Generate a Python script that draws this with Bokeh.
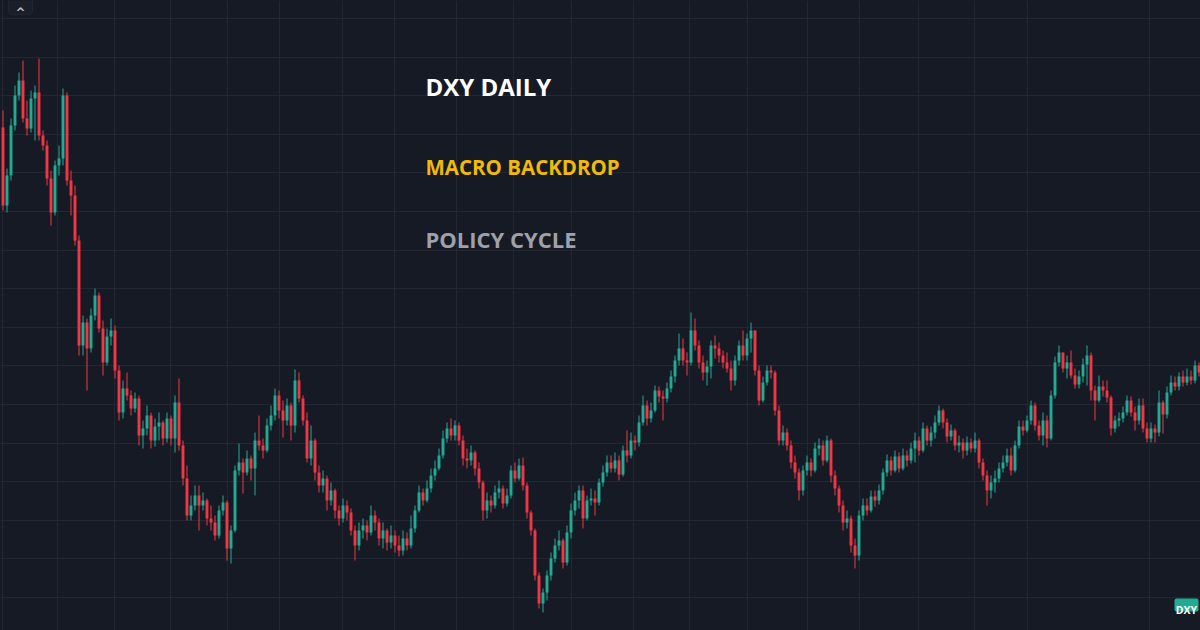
import numpy as np
from bokeh.plotting import figure
from bokeh.models import Range1d, Grid, FixedTicker, ColumnDataSource, Label, BoxAnnotation
from bokeh.embed import file_html
from bokeh.resources import INLINE

# ---------------- data (daily OHLC) ----------------
first_open = 111.92
closes = [
    108.80, 110.00, 112.00, 113.20, 113.80, 112.28, 111.88, 113.08, 113.32, 111.60,
    111.20, 109.88, 108.52, 110.40, 110.68, 113.20, 109.80, 109.20, 107.40, 103.20,
    104.12, 103.08, 104.40, 105.20, 103.88, 102.52, 103.56, 103.80, 102.20, 100.52,
    101.48, 101.20, 100.68, 101.08, 99.60, 99.88, 100.40, 99.40, 99.96, 100.12,
    99.48, 100.28, 99.48, 100.92, 99.20, 97.88, 96.40, 96.80, 97.20, 96.80,
    97.00, 96.28, 96.12, 95.60, 96.60, 96.92, 95.08, 95.80, 98.20, 98.52,
    98.12, 98.68, 98.28, 99.40, 99.20, 99.00, 100.00, 100.40, 101.20, 100.60,
    100.20, 100.80, 100.00, 101.80, 101.08, 100.20, 98.68, 99.40, 98.12, 97.60,
    97.88, 97.00, 97.40, 96.60, 96.28, 96.80, 96.52, 95.80, 95.20, 95.80,
    96.00, 95.72, 96.40, 96.12, 95.48, 95.80, 95.32, 95.60, 95.20, 95.00,
    95.48, 95.20, 95.88, 96.60, 97.32, 97.00, 97.48, 98.00, 98.28, 98.80,
    99.48, 99.88, 99.60, 100.00, 99.40, 98.68, 98.60, 98.92, 98.28, 97.72,
    96.60, 97.00, 96.80, 97.32, 97.48, 96.88, 97.20, 98.20, 97.88, 98.40,
    97.60, 96.52, 95.80, 94.00, 92.88, 93.32, 94.00, 94.68, 95.20, 95.40,
    94.52, 95.72, 96.60, 97.00, 97.40, 96.28, 97.00, 97.08, 96.92, 97.72,
    98.12, 98.52, 98.28, 98.60, 98.04, 99.00, 98.80, 99.40, 99.32, 100.12,
    100.80, 100.28, 100.60, 101.40, 101.16, 101.08, 101.48, 101.96, 102.60, 103.08,
    102.60, 102.52, 103.80, 103.20, 102.52, 102.12, 102.36, 103.20, 103.08, 102.80,
    102.52, 102.28, 101.80, 102.60, 103.20, 102.80, 103.48, 103.80, 102.20, 101.00,
    101.72, 102.20, 102.12, 100.60, 99.40, 99.72, 99.20, 98.52, 98.12, 97.40,
    98.20, 98.52, 98.20, 99.08, 99.20, 98.60, 99.40, 98.00, 97.48, 96.80,
    96.12, 96.28, 95.20, 94.80, 96.40, 96.80, 96.60, 97.16, 97.00, 97.40,
    98.12, 98.60, 98.20, 98.76, 98.28, 98.80, 98.60, 99.08, 99.40, 99.00,
    99.88, 99.40, 99.72, 100.12, 100.60, 100.12, 99.56, 99.80, 99.20, 99.32,
    99.00, 99.32, 99.08, 99.40, 98.52, 98.00, 97.40, 97.72, 97.88, 98.28,
    98.52, 98.80, 98.20, 99.20, 99.96, 99.80, 100.20, 100.80, 100.00, 99.60,
    100.20, 99.48, 101.20, 102.52, 102.92, 102.28, 102.52, 102.00, 101.64, 101.96,
    102.44, 102.80, 101.40, 101.00, 101.56, 101.40, 101.12, 99.88, 100.20, 100.28,
    100.52, 101.00, 100.52, 100.20, 100.80, 99.88, 99.48, 99.88, 99.72, 100.92,
    100.44, 101.32, 101.72, 101.56, 101.96, 101.72, 101.96, 101.80, 102.40, 102.12,
]
highs = [
    112.60, 110.28, 112.28, 113.60, 114.12, 114.60, 113.00, 113.40, 113.60, 114.68,
    111.80, 111.40, 110.20, 110.60, 111.20, 113.48, 113.32, 110.20, 109.60, 107.60,
    104.40, 104.28, 104.68, 105.48, 105.32, 104.20, 103.88, 104.28, 104.00, 102.40,
    101.80, 102.12, 101.40, 101.32, 101.20, 100.20, 100.80, 100.52, 100.28, 100.52,
    100.20, 100.52, 100.40, 101.20, 101.88, 99.40, 98.40, 97.20, 97.60, 97.60,
    97.32, 97.08, 96.80, 96.40, 96.80, 97.20, 97.00, 96.00, 98.40, 99.28,
    98.68, 99.00, 98.80, 99.72, 100.40, 99.48, 100.28, 100.80, 101.48, 101.40,
    101.00, 101.08, 100.92, 102.24, 102.12, 101.20, 100.52, 100.00, 99.48, 98.40,
    98.20, 98.00, 97.72, 97.48, 96.80, 97.08, 97.00, 96.68, 96.00, 96.12,
    96.28, 96.20, 96.80, 96.60, 96.28, 96.12, 95.88, 96.00, 95.80, 95.60,
    95.80, 95.72, 96.40, 96.80, 97.60, 97.48, 97.80, 98.28, 98.60, 99.08,
    99.80, 100.12, 100.28, 100.20, 100.12, 99.60, 99.08, 99.20, 99.00, 98.52,
    97.80, 97.32, 97.20, 97.60, 97.80, 97.60, 97.48, 98.40, 98.52, 98.68,
    98.72, 97.72, 96.60, 95.88, 94.12, 93.48, 94.20, 94.92, 95.48, 95.80,
    95.48, 96.00, 96.88, 97.32, 97.60, 97.60, 97.20, 97.48, 97.40, 97.88,
    98.40, 98.80, 98.80, 98.92, 98.80, 99.20, 99.80, 99.72, 99.60, 100.40,
    101.20, 101.00, 100.92, 101.60, 101.56, 101.40, 101.72, 102.20, 102.80, 103.68,
    103.48, 102.92, 104.52, 104.28, 103.40, 102.80, 102.60, 103.40, 103.60, 103.32,
    103.00, 102.92, 102.60, 102.80, 103.40, 103.80, 103.68, 104.12, 103.60, 102.40,
    101.96, 102.40, 102.40, 102.20, 100.80, 100.00, 99.88, 99.40, 98.80, 98.28,
    98.40, 98.80, 98.68, 99.32, 99.48, 99.40, 99.60, 99.48, 98.20, 97.60,
    97.00, 96.60, 96.40, 95.48, 96.60, 97.08, 97.08, 97.40, 97.40, 97.64,
    98.28, 98.84, 98.76, 99.00, 98.92, 99.08, 99.00, 99.32, 99.72, 99.56,
    100.12, 100.00, 99.96, 100.40, 100.80, 100.68, 100.28, 100.04, 99.88, 99.60,
    99.48, 99.56, 99.48, 99.72, 99.48, 98.68, 98.20, 98.00, 98.20, 98.52,
    98.80, 99.08, 99.12, 99.40, 100.20, 100.20, 100.40, 101.00, 100.92, 100.20,
    100.52, 100.40, 101.40, 102.76, 103.20, 102.92, 102.80, 103.00, 102.28, 102.20,
    102.68, 103.20, 102.92, 101.60, 102.00, 101.80, 101.80, 101.20, 100.40, 100.52,
    100.76, 101.20, 101.16, 100.76, 101.08, 101.08, 100.12, 100.12, 100.04, 101.40,
    101.00, 101.56, 102.00, 101.96, 102.12, 102.20, 102.28, 102.20, 102.60, 102.52,
]
lows = [
    108.60, 108.52, 109.80, 111.80, 113.00, 112.12, 111.60, 111.72, 111.40, 111.40,
    111.00, 109.60, 108.00, 108.40, 110.00, 110.40, 109.60, 108.40, 107.20, 102.80,
    102.80, 101.40, 102.92, 104.20, 103.72, 102.00, 102.40, 103.20, 101.88, 100.20,
    100.28, 101.00, 100.40, 100.52, 99.20, 99.08, 99.60, 99.08, 99.16, 99.40,
    99.20, 99.32, 99.20, 98.92, 99.00, 97.60, 96.20, 96.20, 96.60, 95.80,
    96.60, 96.00, 95.80, 95.40, 95.48, 96.40, 94.60, 94.48, 95.72, 98.00,
    97.28, 98.00, 97.80, 97.20, 99.00, 98.68, 98.92, 99.80, 100.20, 100.28,
    99.52, 100.00, 99.40, 99.72, 100.92, 100.00, 98.52, 98.40, 97.80, 97.32,
    97.32, 96.60, 96.80, 96.28, 96.00, 96.12, 96.20, 95.60, 94.60, 95.00,
    95.48, 95.40, 95.60, 95.80, 95.20, 95.08, 95.00, 95.08, 94.92, 94.76,
    94.80, 95.00, 95.08, 95.72, 96.52, 96.80, 96.92, 97.32, 97.80, 98.20,
    98.68, 99.32, 99.40, 99.40, 99.20, 98.40, 98.28, 98.40, 98.00, 97.48,
    96.20, 96.28, 96.52, 96.68, 97.08, 96.68, 96.76, 97.08, 97.72, 97.80,
    97.40, 96.28, 95.60, 93.80, 92.68, 92.52, 93.00, 93.80, 94.52, 95.00,
    94.28, 94.40, 95.48, 96.40, 96.68, 95.88, 96.20, 96.80, 96.40, 96.80,
    97.56, 97.96, 98.12, 98.12, 97.80, 97.96, 98.52, 98.68, 99.00, 99.16,
    100.00, 100.00, 100.12, 100.52, 100.92, 100.20, 100.92, 101.32, 101.72, 102.40,
    102.40, 102.00, 102.40, 103.00, 102.28, 101.80, 101.60, 101.88, 102.68, 102.52,
    102.28, 102.12, 101.40, 101.60, 102.40, 102.60, 102.60, 102.92, 102.00, 100.80,
    100.92, 101.60, 101.88, 100.40, 99.20, 99.20, 99.00, 98.28, 97.88, 97.00,
    97.20, 98.00, 97.96, 98.12, 98.80, 98.40, 98.52, 97.72, 97.20, 96.52,
    95.80, 95.88, 94.92, 94.28, 94.60, 96.20, 96.40, 96.52, 96.76, 96.84,
    97.24, 97.96, 98.00, 98.12, 98.12, 98.20, 98.36, 98.48, 98.52, 98.80,
    98.92, 99.20, 99.16, 99.48, 100.00, 99.88, 99.32, 99.40, 99.00, 98.92,
    98.68, 98.80, 98.92, 98.92, 98.28, 97.80, 96.80, 97.08, 97.32, 97.72,
    98.12, 98.36, 98.00, 98.12, 99.08, 99.60, 99.72, 100.04, 99.80, 99.40,
    99.20, 99.12, 99.40, 101.08, 102.36, 102.12, 101.88, 101.88, 101.48, 101.48,
    101.72, 101.60, 101.00, 100.20, 100.92, 101.16, 100.92, 99.60, 99.72, 99.96,
    100.12, 100.40, 100.36, 99.80, 100.04, 99.72, 99.32, 99.32, 99.32, 99.56,
    99.68, 100.28, 101.20, 101.40, 101.40, 101.56, 101.60, 101.64, 101.68, 101.96,
]

title_text = "DXY DAILY"
subtitle_text = "MACRO BACKDROP"
note_text = "POLICY CYCLE"
symbol_badge = "DXY"

# ---------------- layout / style ----------------
W, H = 1200, 630
BG = "#161a25"
GRID_COLOR = "#232733"
UP = "#22ab94"
DOWN = "#f23645"

STEP = 4.0          # px per bar
X0 = 2.5            # px of first bar centre
Y_TOP = 117.0       # price at top edge
PX_PER_UNIT = 25.0  # px per price unit


def px2x(px):
    return (px - X0) / STEP


def px2y(py):
    return Y_TOP - py / PX_PER_UNIT


n = len(closes)
idx = np.arange(n)
c = np.array(closes)
o = np.array([first_open] + closes[:-1])
top = np.maximum(o, c)
bot = np.minimum(o, c)
hi = np.maximum(np.array(highs), top)
lo = np.minimum(np.array(lows), bot)
bot = np.where(top - bot < 0.02, top - 0.02, bot)
colors = np.where(c >= o, UP, DOWN)

src = ColumnDataSource(dict(x=idx, top=top, bot=bot, hi=hi, lo=lo, color=colors))

p = figure(width=W, height=H,
           x_range=Range1d(px2x(0), px2x(W)),
           y_range=Range1d(px2y(H), px2y(0)),
           x_axis_location=None, y_axis_location=None,
           toolbar_location=None, output_backend="svg",
           min_border=0, background_fill_color=BG, border_fill_color=BG,
           outline_line_color=None)

# drop default grids, add our own
p.center = [r for r in p.center if not isinstance(r, Grid)]
hgrid_px = [18 + 38.6 * k for k in range(16)]
vgrid_px = [2, 57, 114, 170, 227, 279, 342, 394, 456, 513, 571, 633, 689,
            747, 807, 859, 918, 974, 1027, 1149]
p.add_layout(Grid(dimension=1, ticker=FixedTicker(ticks=[px2y(v) for v in hgrid_px]),
                  grid_line_color=GRID_COLOR, grid_line_width=1))
p.add_layout(Grid(dimension=0, ticker=FixedTicker(ticks=[px2x(v) for v in vgrid_px]),
                  grid_line_color=GRID_COLOR, grid_line_width=1))

# candles
p.segment(x0="x", y0="lo", x1="x", y1="hi", line_color="color", line_width=1, source=src)
p.vbar(x="x", width=0.72, top="top", bottom="bot", fill_color="color",
       line_color=None, source=src)

# texts
p.add_layout(Label(x=px2x(425), y=px2y(86), text=title_text,
                   text_font="Open Sans", text_font_style="bold", text_font_size="24px",
                   text_color="#ffffff", text_baseline="alphabetic"))
p.add_layout(Label(x=px2x(425), y=px2y(166), text=subtitle_text,
                   text_font="Open Sans", text_font_style="bold", text_font_size="20.5px",
                   text_color="#f0b90b", text_baseline="alphabetic"))
p.add_layout(Label(x=px2x(425), y=px2y(238), text=note_text,
                   text_font="Open Sans", text_font_style="bold", text_font_size="22px",
                   text_color="#9ea1ab", text_baseline="alphabetic"))

# collapse button at top-left
p.add_layout(BoxAnnotation(left=px2x(8), right=px2x(32), top=px2y(-4), bottom=px2y(14),
                           fill_color="#1b1f2a", fill_alpha=1.0, line_color="#363a45",
                           line_width=1, border_radius=3))
p.add_layout(Label(x=px2x(20), y=px2y(12), text="^", text_align="center",
                   text_baseline="alphabetic", text_font="DejaVu Sans",
                   text_font_style="bold", text_font_size="12px", text_color="#c3c6ce"))

# symbol badge at bottom-right
p.add_layout(BoxAnnotation(left=px2x(1174), right=px2x(1198), top=px2y(598), bottom=px2y(611),
                           fill_color=UP, fill_alpha=1.0, line_color=None, border_radius=2))
p.add_layout(Label(x=px2x(1186), y=px2y(609), text=symbol_badge, text_align="center",
                   text_baseline="alphabetic", text_font="Open Sans",
                   text_font_style="bold", text_font_size="10.5px", text_color="#ffffff"))

html = file_html(p, INLINE, title="DXY Daily")
html = html.replace("</head>",
                    "<style>html,body{margin:0;padding:0;background:%s;overflow:hidden;}</style></head>" % BG, 1)
open("out.html", "w").write(html)
